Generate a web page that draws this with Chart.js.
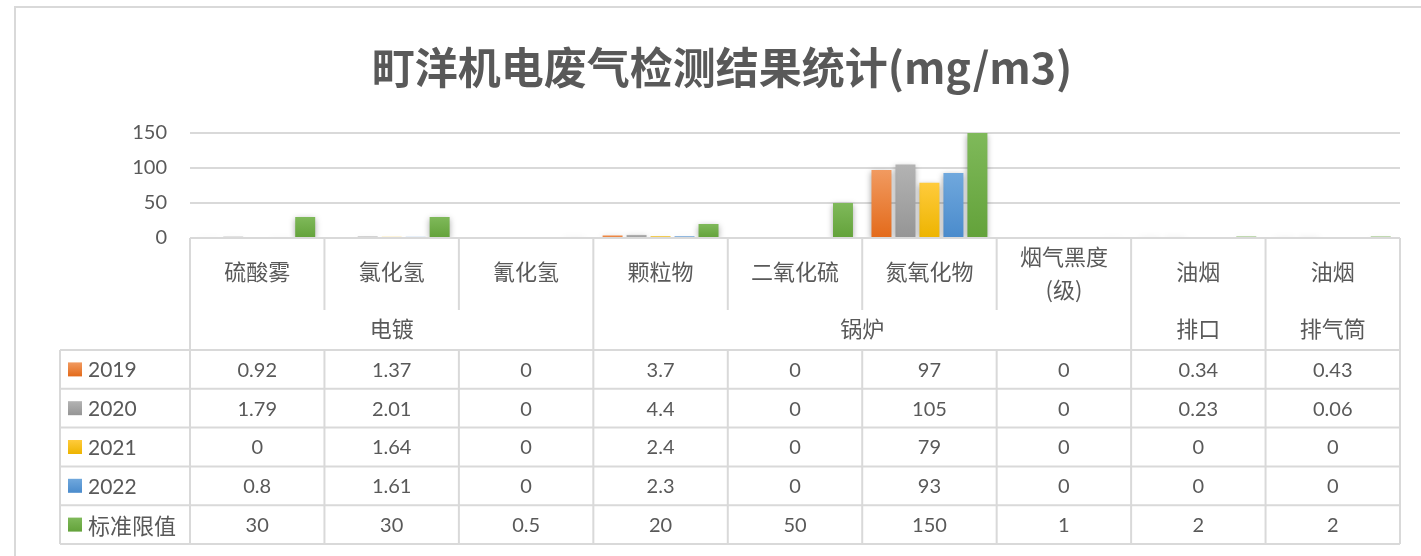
<!DOCTYPE html>
<html>
<head>
<meta charset="utf-8">
<script src="https://cdn.jsdelivr.net/npm/chart.js@4/dist/chart.umd.min.js"></script>
<style>
  html, body { margin: 0; padding: 0; background: #fff; }
  #wrap { position: relative; width: 1421px; height: 556px; }
  #frame { position: absolute; left: 14px; top: 6px; width: 1440px; height: 600px; border: 2px solid #d9d9d9; box-sizing: border-box; }
  canvas { position: absolute; left: 0; top: 0; }
</style>
</head>
<body>
<div id="wrap">
  <div id="frame"></div>
  <canvas id="myChart" width="1421" height="556"></canvas>
</div>
<script>
// categories (lower level) and groups (upper level)
var categories = ['硫酸雾', '氯化氢', '氰化氢', '颗粒物', '二氧化硫', '氮氧化物', ['烟气黑度', '(级)'], '油烟', '油烟'];
var groupNames = ['电镀', '锅炉', '排口', '排气筒'];
var groupSpans = [3, 4, 1, 1];

var seriesNames = ['2019', '2020', '2021', '2022', '标准限值'];
var v2019 = [0.92, 1.37, 0, 3.7, 0, 97, 0, 0.34, 0.43];
var v2020 = [1.79, 2.01, 0, 4.4, 0, 105, 0, 0.23, 0.06];
var v2021 = [0, 1.64, 0, 2.4, 0, 79, 0, 0, 0];
var v2022 = [0.8, 1.61, 0, 2.3, 0, 93, 0, 0, 0];
var vLimit = [30, 30, 0.5, 20, 50, 150, 1, 2, 2];

var yTicks = [0, 50, 100, 150];
var titleText = '町洋机电废气检测结果统计(mg/m3)';

var colors = [
  ['#f19a60', '#e36a1a'],
  ['#b3b3b3', '#959595'],
  ['#ffcb3c', '#edb400'],
  ['#70a8dd', '#4a8bcc'],
  ['#7fb95a', '#63a23a']
];

var numFont = "Lato, 'Noto Sans CJK SC', sans-serif";
var cjkFont = "'Noto Sans CJK SC', sans-serif";
var textColor = '#595959';
var lineColor = '#d9d9d9';

function barGradient(ci) {
  return function(context) {
    var chart = context.chart;
    var y = chart.scales && chart.scales.y;
    if (!y || !chart.chartArea || context.raw === undefined) return colors[ci][1];
    var top = y.getPixelForValue(context.raw);
    var bottom = y.getPixelForValue(0);
    if (bottom - top < 2) return colors[ci][1];
    var g = chart.ctx.createLinearGradient(0, top, 0, bottom);
    g.addColorStop(0, colors[ci][0]);
    g.addColorStop(1, colors[ci][1]);
    return g;
  };
}

var allValues = [v2019, v2020, v2021, v2022, vLimit];

var shadowPlugin = {
  id: 'barShadow',
  beforeDatasetsDraw: function(chart) {
    var ctx = chart.ctx;
    ctx.save();
    ctx.shadowColor = 'rgba(0,0,0,0.35)';
    ctx.shadowBlur = 6;
    ctx.shadowOffsetX = 0;
    ctx.shadowOffsetY = 2;
  },
  afterDatasetsDraw: function(chart) {
    chart.ctx.restore();
  }
};

var tablePlugin = {
  id: 'dataTable',
  afterDraw: function(chart) {
    var ctx = chart.ctx;
    var x = chart.scales.x;
    var area = chart.chartArea;
    var n = categories.length;
    var cw = (area.right - area.left) / n;
    var top = area.bottom;
    var catBottom = 310;
    var grpBottom = 350;
    var rowH = 38.8;
    var leftX = 60;
    var nRows = seriesNames.length;
    var tableBottom = grpBottom + rowH * nRows;

    function edge(i) { return x.getPixelForValue(i) - cw / 2; }

    ctx.save();
    // title
    ctx.fillStyle = textColor;
    ctx.textAlign = 'center';
    ctx.textBaseline = 'middle';
    ctx.font = 'bold 43px ' + cjkFont;
    ctx.fillText(titleText, 722, 68);

    ctx.strokeStyle = lineColor;
    ctx.lineWidth = 2;
    ctx.beginPath();
    // top line (axis)
    ctx.moveTo(area.left, top); ctx.lineTo(area.right, top);
    // row lines
    for (var r = 0; r <= nRows; r++) {
      var yy = grpBottom + rowH * r;
      ctx.moveTo(leftX, yy); ctx.lineTo(area.right, yy);
    }
    // left edges
    ctx.moveTo(leftX, grpBottom); ctx.lineTo(leftX, tableBottom);
    ctx.moveTo(area.left, top); ctx.lineTo(area.left, tableBottom);
    ctx.moveTo(area.right, top); ctx.lineTo(area.right, tableBottom);
    // category dividers
    var groupEnds = [];
    var acc = 0;
    groupSpans.forEach(function(s) { acc += s; groupEnds.push(acc); });
    for (var i = 1; i < n; i++) {
      var ex = edge(i);
      var isGroup = groupEnds.indexOf(i) >= 0;
      ctx.moveTo(ex, top);
      ctx.lineTo(ex, isGroup ? grpBottom : catBottom);
      ctx.moveTo(ex, grpBottom); ctx.lineTo(ex, tableBottom);
    }
    ctx.stroke();

    // category labels
    ctx.font = '22px ' + cjkFont;
    categories.forEach(function(c, i) {
      var cx = x.getPixelForValue(i);
      if (Array.isArray(c)) {
        ctx.fillText(c[0], cx, 257);
        ctx.fillText(c[1], cx, 290);
      } else {
        ctx.fillText(c, cx, 272);
      }
    });
    // group labels
    var start = 0;
    groupNames.forEach(function(g, gi) {
      var end = start + groupSpans[gi];
      var gx = (edge(start) + edge(end)) / 2;
      ctx.fillText(g, gx, 329);
      start = end;
    });
    // data rows
    for (var r2 = 0; r2 < nRows; r2++) {
      var cy = grpBottom + rowH * r2 + rowH / 2;
      var gsq = ctx.createLinearGradient(0, cy - 7, 0, cy + 7);
      gsq.addColorStop(0, colors[r2][0]);
      gsq.addColorStop(1, colors[r2][1]);
      ctx.fillStyle = gsq;
      ctx.fillRect(68, cy - 7, 14, 14);
      ctx.fillStyle = textColor;
      ctx.textAlign = 'left';
      ctx.font = (/^\d+$/.test(seriesNames[r2]) ? '21px ' + numFont : '22px ' + cjkFont);
      ctx.fillText(seriesNames[r2], 88, cy + 1);
      ctx.textAlign = 'center';
      ctx.font = '20px ' + numFont;
      allValues[r2].forEach(function(v, i) {
        ctx.fillText(String(v), x.getPixelForValue(i), cy + 1);
      });
    }
    ctx.restore();
  }
};

var ctx = document.getElementById('myChart').getContext('2d');
var chart = new Chart(ctx, {
  type: 'bar',
  data: {
    labels: categories,
    datasets: seriesNames.map(function(name, i) {
      return {
        label: name,
        data: allValues[i],
        backgroundColor: barGradient(i),
        borderWidth: 0,
        categoryPercentage: 0.892,
        barPercentage: 0.833
      };
    })
  },
  options: {
    responsive: false,
    animation: false,
    layout: { padding: { left: 0, right: 21, top: 133, bottom: 318 } },
    plugins: {
      legend: { display: false },
      tooltip: { enabled: false },
      title: { display: false }
    },
    scales: {
      x: { display: false },
      y: {
        min: 0,
        max: 150,
        afterFit: function(scale) { scale.width = 190; },
        afterBuildTicks: function(scale) {
          scale.ticks = yTicks.map(function(v) { return { value: v }; });
        },
        border: { display: false },
        grid: { color: lineColor, lineWidth: 2, drawTicks: false },
        ticks: {
          padding: 23,
          color: textColor,
          font: { family: numFont, size: 20 }
        }
      }
    }
  },
  plugins: [shadowPlugin, tablePlugin]
});
</script>
</body>
</html>
